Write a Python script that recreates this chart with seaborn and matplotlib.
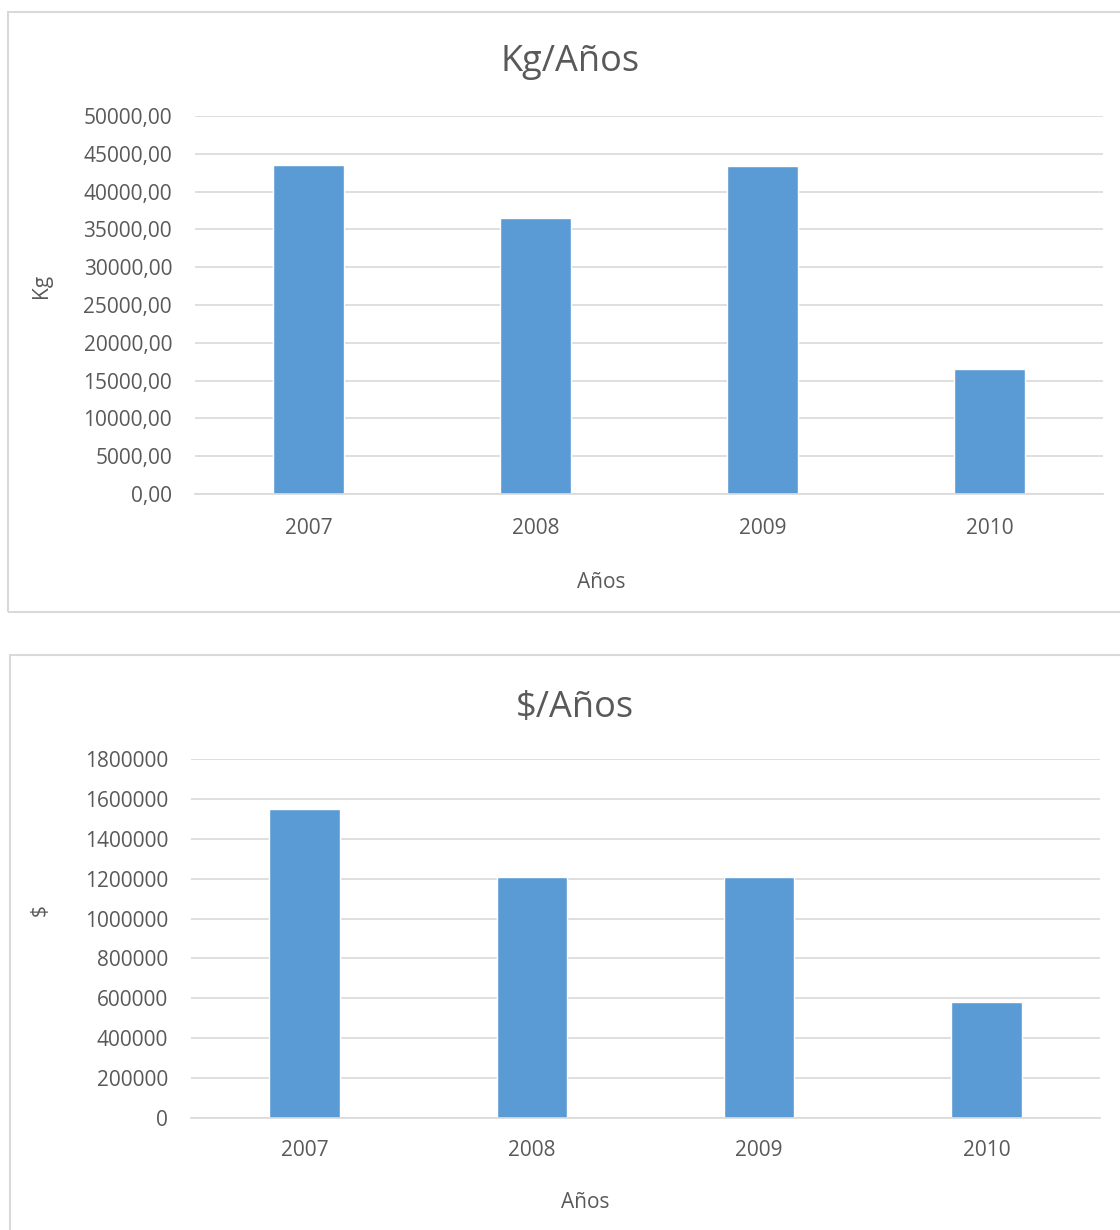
import numpy as np
import pandas as pd
import matplotlib
matplotlib.use('Agg')
import matplotlib.pyplot as plt
import matplotlib.patches as patches
from matplotlib.ticker import FuncFormatter, FixedLocator
import seaborn as sns

# Datos
anios = ['2007', '2008', '2009', '2010']
kg_por_anio = [43500, 36500, 43400, 16600]
pesos_por_anio = [1550000, 1210000, 1208000, 582000]

COLOR_BARRA = '#5b9bd5'
COLOR_TEXTO = '#595959'
COLOR_GRID = '#d9d9d9'

sns.set_theme(style='white')
plt.rcParams['font.family'] = ['Open Sans', 'DejaVu Sans']

fig = plt.figure(figsize=(11.2, 12.3), dpi=100)
W, H = 1120, 1230


def fx(px):
    return px / W


def fy(py):
    return 1 - py / H


# Marcos de los dos gráficos (estilo Excel)
for x0, y0, x1, y1 in [(8, 12, 1130, 612), (10, 655, 1130, 1240)]:
    fig.patches.append(patches.Rectangle((fx(x0), fy(y1)), fx(x1 - x0), (y1 - y0) / H,
                                         transform=fig.transFigure, fill=False,
                                         edgecolor=COLOR_GRID, linewidth=1.5))


def dibujar(ax, valores, ymax, paso, fmt, ticks_x, pad_x):
    df = pd.DataFrame({'anio': anios, 'valor': valores})
    sns.barplot(data=df, x='anio', y='valor', color=COLOR_BARRA, width=0.31,
                saturation=1, ax=ax)
    ax.set_xlim(-0.5, len(anios) - 0.5)
    ax.set_ylim(0, ymax)
    ax.set_yticks(np.arange(0, ymax + 1, paso))
    ax.yaxis.set_major_formatter(FuncFormatter(fmt))
    ax.grid(axis='y', color=COLOR_GRID, linewidth=1.2)
    ax.set_axisbelow(True)
    for s in ['top', 'right', 'left']:
        ax.spines[s].set_visible(False)
    ax.spines['bottom'].set_color(COLOR_GRID)
    ax.spines['bottom'].set_linewidth(1.2)
    ax.tick_params(axis='both', length=0, labelsize=15, colors=COLOR_TEXTO)
    ax.tick_params(axis='y', pad=16.5)
    ax.tick_params(axis='x', pad=pad_x)
    if ticks_x:
        ax.xaxis.set_minor_locator(FixedLocator(np.arange(-0.5, len(anios), 1)))
        ax.tick_params(axis='x', which='minor', length=6, width=1.2, color=COLOR_GRID,
                       direction='out')
    ax.set_xlabel('')
    ax.set_ylabel('')


ax1 = fig.add_axes([fx(195), fy(494), fx(1103 - 195), (494 - 116) / H])
dibujar(ax1, kg_por_anio, 50000, 5000,
        lambda v, p: f'{v:.2f}'.replace('.', ','), True, 17)

ax2 = fig.add_axes([fx(191), fy(1118), fx(1100 - 191), (1118 - 759) / H])
dibujar(ax2, pesos_por_anio, 1800000, 200000,
        lambda v, p: f'{int(v)}', False, 16)

# Títulos y etiquetas de ejes
fig.text(fx(570), fy(71), 'Kg/Años', fontsize=26, color=COLOR_TEXTO,
         ha='center', va='baseline')
fig.text(fx(601), fy(588), 'Años', fontsize=15, color=COLOR_TEXTO,
         ha='center', va='baseline')
fig.text(fx(41), fy(286), 'Kg', fontsize=15, color=COLOR_TEXTO,
         ha='center', va='center', rotation=90)

fig.text(fx(575), fy(717), '$/Años', fontsize=26, color=COLOR_TEXTO,
         ha='center', va='baseline')
fig.text(fx(585), fy(1208), 'Años', fontsize=15, color=COLOR_TEXTO,
         ha='center', va='baseline')
fig.text(fx(40), fy(910), '$', fontsize=15, color=COLOR_TEXTO,
         ha='center', va='center', rotation=90)

fig.savefig('out.png', dpi=100)
